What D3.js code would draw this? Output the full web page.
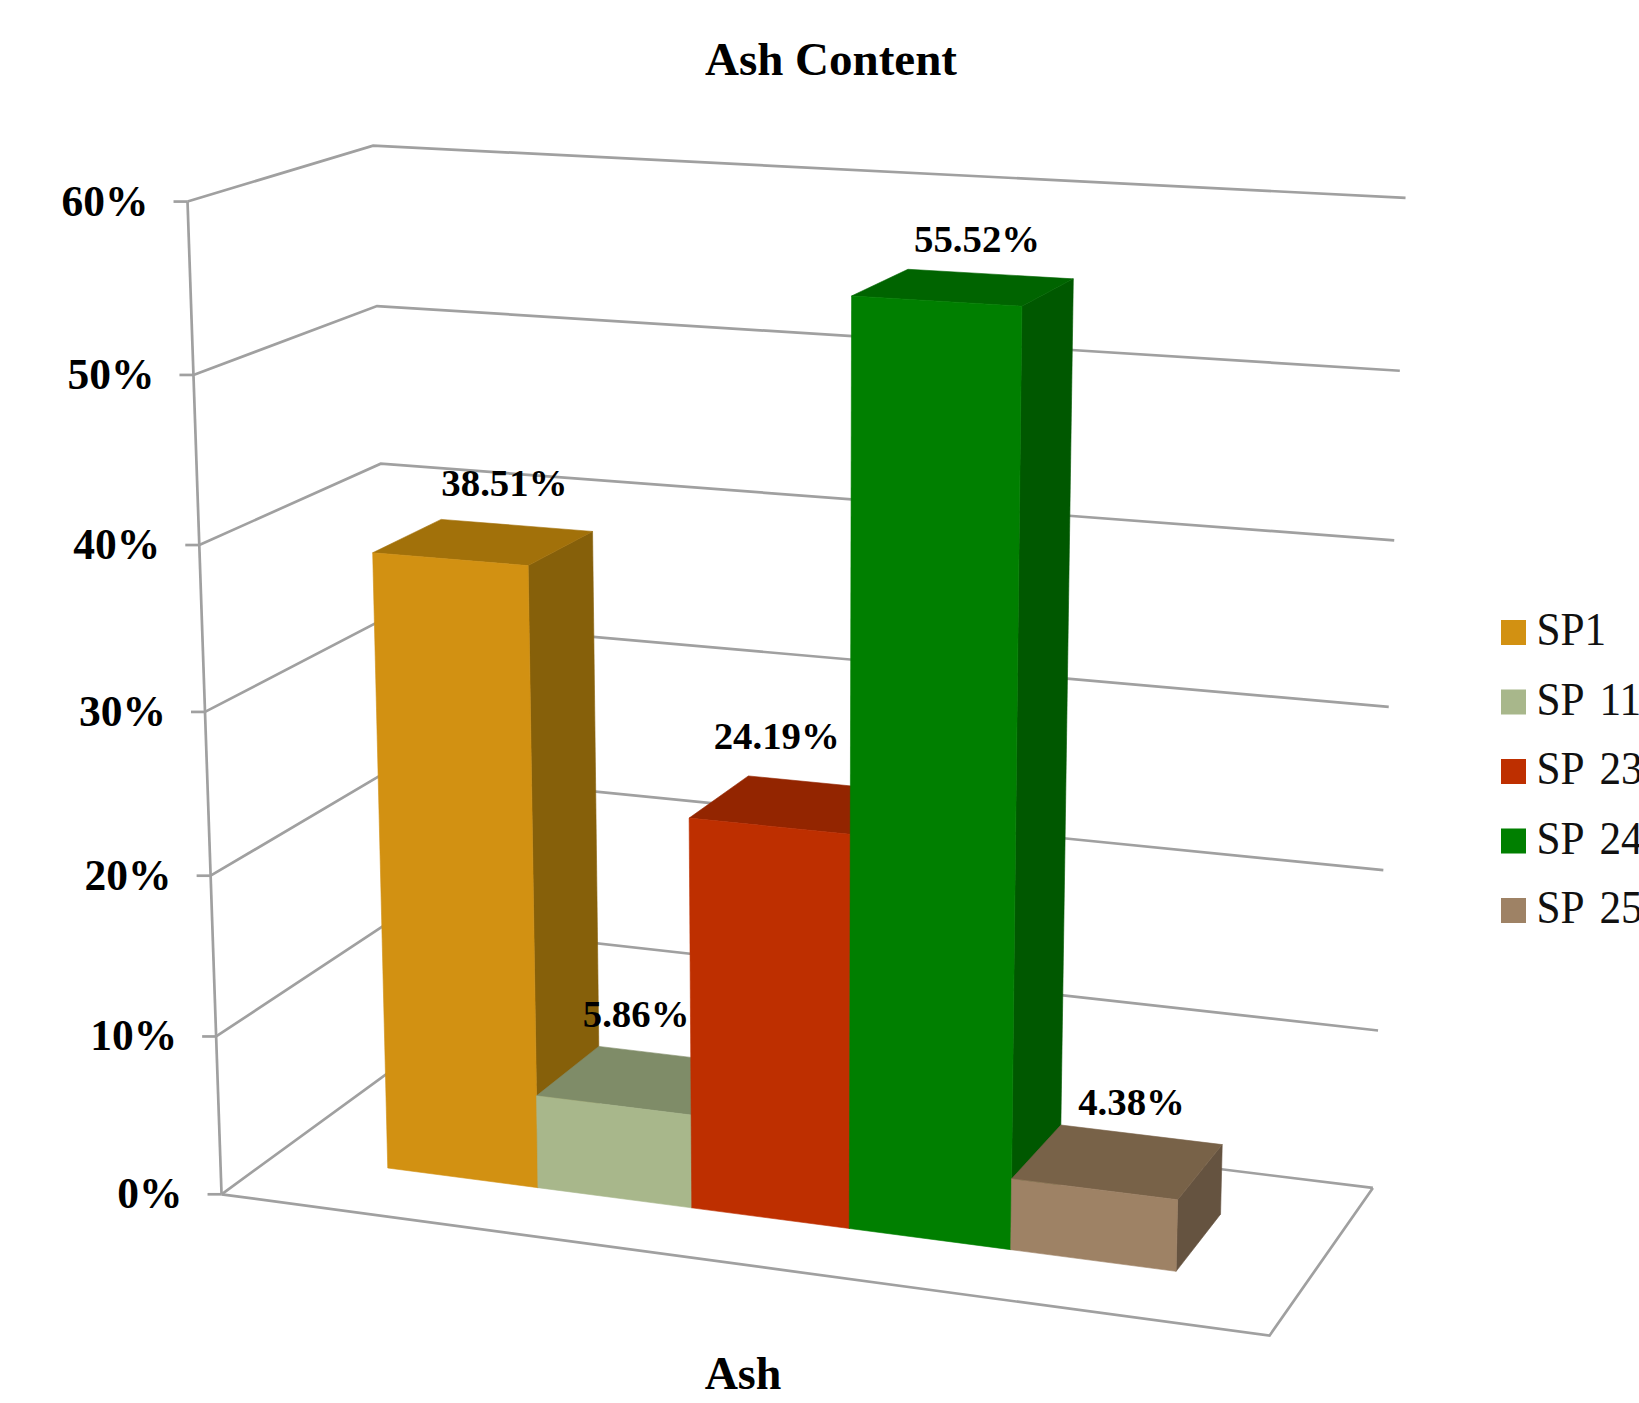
<!DOCTYPE html>
<html>
<head>
<meta charset="utf-8">
<title>Ash Content</title>
<script src="https://cdn.jsdelivr.net/npm/d3@7"></script>
<style>
  html, body { margin: 0; padding: 0; background: #fff; overflow: hidden; }
  svg { display: block; }
  text { font-family: "Liberation Serif", serif; }
</style>
</head>
<body>
<svg id="chart" width="1639" height="1403"></svg>
<script>
// Chart content
const chartTitle = "Ash Content";
const categoryLabel = "Ash";
const seriesNames = ["SP1", "SP 11", "SP 23", "SP 24", "SP 25"];
const ashValues = [38.51, 5.86, 24.19, 55.52, 4.38];
const valueTicks = [0, 10, 20, 30, 40, 50, 60];

// Face colours of each column
const frontColors = ["#D29112", "#A8B78B", "#BE2F00", "#007F00", "#9E8265"];
const topColors = ["#A2710A", "#7F8C68", "#932500", "#006400", "#786248"];
const sideColors = ["#86600A", "#69745A", "#7A1F00", "#005800", "#655340"];

// Viewing set-up: known frame corners (world x, value, world z, screen x, screen y)
const cameraAnchors = [
  [0, 60, 0, 187.3, 201.7], [0, 50, 0, 193.3, 375.3], [0, 40, 0, 200, 545.3],
  [0, 30, 0, 205, 712], [0, 20, 0, 210.5, 875], [0, 10, 0, 216, 1036.7], [0, 0, 0, 221, 1194.3],
  [1, 60, 1, 1405, 196.5], [1, 50, 1, 1399.7, 371], [1, 40, 1, 1394.4, 541.5],
  [1, 30, 1, 1388.7, 707], [1, 20, 1, 1383.3, 870.7], [1, 10, 1, 1378.3, 1030.7], [1, 0, 1, 1372.7, 1187.3],
  [0, 60, 1, 373.3, 145.3], [0, 50, 1, 377.3, 306], [0, 40, 1, 380.7, 463.7],
  [1, 0, 0, 1270, 1335.3]
];

const yScale = d3.scaleLinear().domain([0, 60]).range([0, 1]);
const xBand = d3.scaleBand().domain(seriesNames).range([0, 1])
  .paddingInner(0).paddingOuter(0.75);
const columnDepth = { front: 0.305, back: 0.70 };

// Least-squares fit of the 3x4 projection with the last coefficient fixed at 1
function solveLinear(A, b) {
  const n = b.length;
  const M = A.map((row, i) => [...row, b[i]]);
  for (let c = 0; c < n; c++) {
    let p = c;
    for (let r = c + 1; r < n; r++) if (Math.abs(M[r][c]) > Math.abs(M[p][c])) p = r;
    [M[c], M[p]] = [M[p], M[c]];
    for (let r = 0; r < n; r++) {
      if (r === c) continue;
      const f = M[r][c] / M[c][c];
      for (let k = c; k <= n; k++) M[r][k] -= f * M[c][k];
    }
  }
  return M.map((row, i) => row[n] / row[i]);
}

function fitCamera(anchors) {
  const rows = [], rhs = [];
  anchors.forEach(([wx, val, wz, u, v]) => {
    const X = wx, Y = yScale(val), Z = wz, su = u / 1000, sv = v / 1000;
    rows.push([X, Y, Z, 1, 0, 0, 0, 0, -su * X, -su * Y, -su * Z]); rhs.push(su);
    rows.push([0, 0, 0, 0, X, Y, Z, 1, -sv * X, -sv * Y, -sv * Z]); rhs.push(sv);
  });
  const n = 11;
  const AtA = d3.range(n).map(i => d3.range(n).map(j => d3.sum(rows, r => r[i] * r[j])));
  const Atb = d3.range(n).map(i => d3.sum(rows, (r, k) => r[i] * rhs[k]));
  return solveLinear(AtA, Atb);
}

const cam = fitCamera(cameraAnchors);

// Maps world x, a value and world z to a screen position
function project(wx, val, wz) {
  const Y = yScale(val);
  const w = cam[8] * wx + cam[9] * Y + cam[10] * wz + 1;
  return [
    1000 * (cam[0] * wx + cam[1] * Y + cam[2] * wz + cam[3]) / w,
    1000 * (cam[4] * wx + cam[5] * Y + cam[6] * wz + cam[7]) / w
  ];
}

const svg = d3.select("#chart");
const polyline = d3.line();
const polygon = pts => polyline(pts) + "Z";

// Title and category caption
svg.append("text").attr("x", 831).attr("y", 75).attr("text-anchor", "middle")
  .attr("font-size", 47).attr("font-weight", 700).attr("fill", "#000").text(chartTitle);
svg.append("text").attr("x", 743).attr("y", 1389).attr("text-anchor", "middle")
  .attr("font-size", 46).attr("font-weight", 700).attr("fill", "#000").text(categoryLabel);

// Frame: wall gridlines, floor outline, value axis and its ticks
const frame = svg.append("g").attr("fill", "none").attr("stroke", "#A0A0A0")
  .attr("stroke-width", 2.7).attr("stroke-linejoin", "miter");
frame.selectAll("path.grid").data(valueTicks).join("path").attr("class", "grid")
  .attr("d", t => polyline([project(0, t, 0), project(0, t, 1), project(1, t, 1)]));
frame.append("path").attr("d", polyline([project(0, 0, 0), project(1, 0, 0), project(1, 0, 1)]));
frame.append("path").attr("d", polyline([project(0, 60, 0), project(0, 0, 0)]));
frame.selectAll("path.tick").data(valueTicks).join("path").attr("class", "tick")
  .attr("d", t => {
    const [x, y] = project(0, t, 0);
    return polyline([[x - 14, y], [x, y]]);
  });

svg.append("g").selectAll("text").data(valueTicks).join("text")
  .attr("x", t => project(0, t, 0)[0] - 39)
  .attr("y", t => project(0, t, 0)[1] + 14)
  .attr("text-anchor", "end").attr("font-size", 43.5).attr("font-weight", 700).attr("fill", "#000")
  .text(t => t + "%");

// Columns, painted left to right so each one covers the side of the previous
const columns = seriesNames.map((name, i) => ({
  name, value: ashValues[i],
  x0: xBand(name), x1: xBand(name) + xBand.bandwidth(),
  front: frontColors[i], top: topColors[i], side: sideColors[i]
}));

const { front: z0, back: z1 } = columnDepth;
const colGroups = svg.append("g").selectAll("g").data(columns).join("g");
colGroups.append("path").attr("fill", d => d.side).attr("stroke", d => d.side).attr("stroke-width", 0.6)
  .attr("d", d => polygon([project(d.x1, 0, z0), project(d.x1, 0, z1), project(d.x1, d.value, z1), project(d.x1, d.value, z0)]));
colGroups.append("path").attr("fill", d => d.top).attr("stroke", d => d.top).attr("stroke-width", 0.6)
  .attr("d", d => polygon([project(d.x0, d.value, z0), project(d.x1, d.value, z0), project(d.x1, d.value, z1), project(d.x0, d.value, z1)]));
colGroups.append("path").attr("fill", d => d.front).attr("stroke", d => d.front).attr("stroke-width", 0.6)
  .attr("d", d => polygon([project(d.x0, 0, z0), project(d.x1, 0, z0), project(d.x1, d.value, z0), project(d.x0, d.value, z0)]));

// Value labels sit above the rear edge of each column top
const labelShift = [[-12, -29], [-37.5, -28], [-49.5, -35], [-13, -22], [-9.5, -20]];
const fmtLabel = v => v.toFixed(2) + "%";
svg.append("g").selectAll("text").data(columns).join("text")
  .attr("x", (d, i) => project((d.x0 + d.x1) / 2, d.value, z1)[0] + labelShift[i][0])
  .attr("y", (d, i) => project((d.x0 + d.x1) / 2, d.value, z1)[1] + labelShift[i][1])
  .attr("text-anchor", "middle").attr("font-size", 38.8).attr("font-weight", 700).attr("fill", "#000")
  .text(d => fmtLabel(d.value));

// Legend on the right, running off the page edge
const legendY = d3.scalePoint().domain(seriesNames).range([632.5, 910.5]);
const legend = svg.append("g").selectAll("g").data(columns).join("g")
  .attr("transform", d => `translate(1501,${legendY(d.name)})`);
legend.append("rect").attr("x", 0).attr("y", -12.5).attr("width", 25).attr("height", 25).attr("fill", d => d.front);
legend.append("text").attr("transform", "translate(35.5,12.5) scale(0.94,1)")
  .attr("font-size", 46).attr("word-spacing", 6).attr("fill", "#111").text(d => d.name);
</script>
</body>
</html>
